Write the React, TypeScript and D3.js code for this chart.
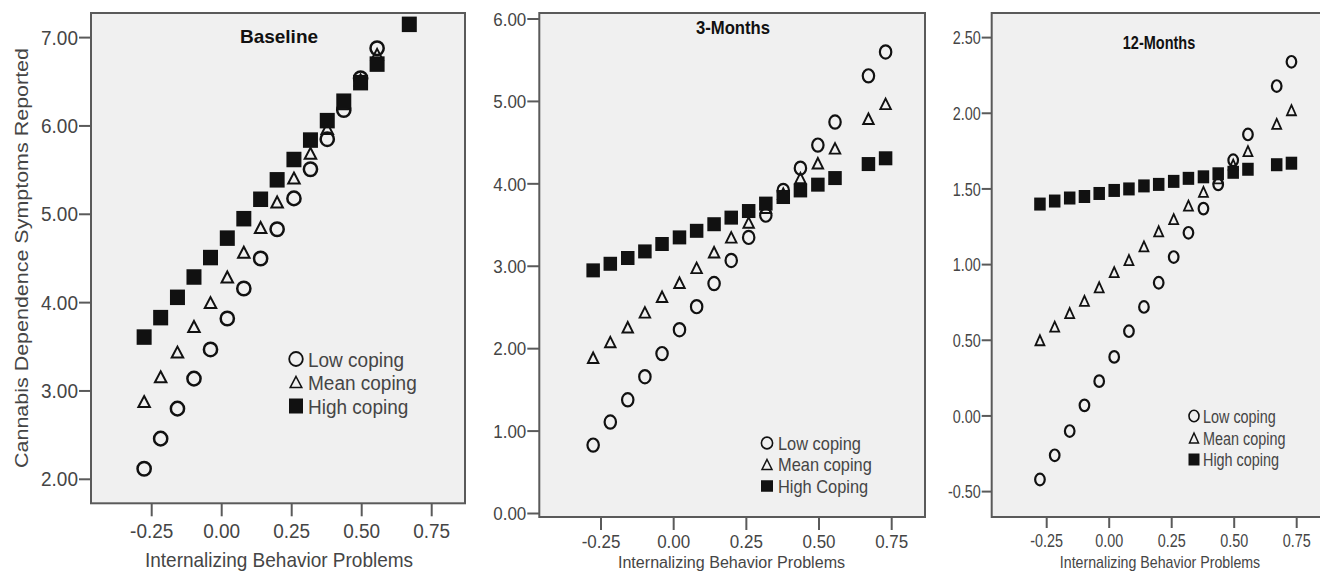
import React from "react";
import * as d3 from "d3";

// ---------- data ----------
const X_POINTS = [-0.277, -0.218, -0.158, -0.099, -0.04, 0.02, 0.079, 0.139, 0.198, 0.258, 0.317, 0.377, 0.436, 0.496, 0.555, 0.67, 0.729];
const X_TICKS = [-0.25, 0, 0.25, 0.5, 0.75];

const BASE_LOW = [2.12, 2.46, 2.8, 3.14, 3.47, 3.82, 4.16, 4.5, 4.83, 5.18, 5.51, 5.85, 6.18, 6.54, 6.88];
const BASE_MEAN = [2.88, 3.16, 3.44, 3.73, 4.0, 4.29, 4.57, 4.85, 5.14, 5.41, 5.69, 5.97, 6.25, 6.52, 6.81];
const BASE_HIGH = [3.61, 3.83, 4.06, 4.29, 4.51, 4.73, 4.95, 5.17, 5.39, 5.62, 5.84, 6.06, 6.28, 6.49, 6.7, 7.15];
const BASE_Y_TICKS = [2, 3, 4, 5, 6, 7];

const M3_LOW = [0.83, 1.11, 1.38, 1.66, 1.94, 2.23, 2.51, 2.79, 3.07, 3.35, 3.62, 3.92, 4.19, 4.47, 4.75, 5.31, 5.6];
const M3_MEAN = [1.89, 2.08, 2.26, 2.44, 2.63, 2.8, 2.98, 3.17, 3.35, 3.53, 3.71, 3.88, 4.07, 4.25, 4.43, 4.79, 4.97];
const M3_HIGH = [2.95, 3.03, 3.1, 3.18, 3.27, 3.35, 3.43, 3.51, 3.59, 3.67, 3.76, 3.84, 3.92, 3.99, 4.07, 4.24, 4.31];
const M3_Y_TICKS = [0, 1, 2, 3, 4, 5, 6];

const M12_LOW = [-0.42, -0.26, -0.1, 0.07, 0.23, 0.39, 0.56, 0.72, 0.88, 1.05, 1.21, 1.37, 1.53, 1.69, 1.86, 2.18, 2.34];
const M12_MEAN = [0.5, 0.59, 0.68, 0.76, 0.85, 0.95, 1.03, 1.12, 1.22, 1.3, 1.39, 1.48, 1.57, 1.66, 1.75, 1.93, 2.02];
const M12_HIGH = [1.4, 1.42, 1.44, 1.45, 1.47, 1.49, 1.5, 1.52, 1.53, 1.55, 1.57, 1.58, 1.6, 1.61, 1.63, 1.66, 1.67];
const M12_Y_TICKS = [-0.5, 0, 0.5, 1, 1.5, 2, 2.5];

const TITLES = ["Baseline", "3-Months", "12-Months"];
const LEGEND_1 = ["Low coping", "Mean coping", "High coping"];
const LEGEND_2 = ["Low coping", "Mean coping", "High Coping"];
const LEGEND_3 = ["Low coping", "Mean coping", "High coping"];
const X_TITLE = "Internalizing Behavior Problems";
const Y_TITLE = "Cannabis Dependence Symptoms Reported";

// ---------- styling / layout ----------
const W = 1320;
const H = 573;
const TEXT = "#454545";
const INK = "#111";
const FRAME = "#5a5a5a";
const BG = "#f0f0f0";
const FONT = "'Liberation Sans', Arial, sans-serif";

const fmt = d3.formatLocale({ decimal: ".", thousands: ",", grouping: [3], currency: ["$", ""], minus: "-" }).format(".2f");

type Shape = "circle" | "tri" | "square";

function Marker({ shape, x, y, s }: { shape: Shape; x: number; y: number; s: any }) {
  if (shape === "circle") {
    return <ellipse cx={x} cy={y} rx={s.crx} ry={s.cry} fill="none" stroke={INK} strokeWidth={s.csw} />;
  }
  if (shape === "tri") {
    const w = s.tw, h = s.th;
    const p = d3.path();
    p.moveTo(x, y - h / 2);
    p.lineTo(x + w / 2, y + h / 2);
    p.lineTo(x - w / 2, y + h / 2);
    p.closePath();
    return <path d={p.toString()} fill="none" stroke={INK} strokeWidth={s.tsw} strokeLinejoin="miter" />;
  }
  return <rect x={x - s.sw / 2} y={y - s.sh / 2} width={s.sw} height={s.sh} fill={INK} />;
}

function Txt({ x, y, fs, sx = 1, sy = 1, anchor = "start", bold = false, children }: any) {
  return (
    <text
      transform={`translate(${x},${y}) scale(${sx},${sy})`}
      fontSize={fs}
      fontFamily={FONT}
      fontWeight={bold ? "bold" : "normal"}
      textAnchor={anchor}
      fill={bold ? "#111" : TEXT}
    >
      {children}
    </text>
  );
}

function Panel({ cfg }: { cfg: any }) {
  const x = d3.scaleLinear().domain([-0.25, 0.75]).range(cfg.xr);
  const y = d3.scaleLinear().domain(cfg.yd).range(cfg.yr);
  const { x0, x1, y0, y1 } = cfg.frame;
  const series: [Shape, number[]][] = [
    ["circle", cfg.low],
    ["tri", cfg.mean],
    ["square", cfg.high],
  ];
  const shapes: Shape[] = ["circle", "tri", "square"];
  return (
    <g>
      <rect x={x0} y={y0} width={x1 - x0} height={y1 - y0} fill={BG} stroke={FRAME} strokeWidth={2} />
      {cfg.yTicks.map((t: number) => (
        <g key={"y" + t}>
          <line x1={x0 - cfg.tickLen} x2={x0} y1={y(t)} y2={y(t)} stroke={FRAME} strokeWidth={2} />
          <Txt x={x0 - cfg.tickLen - 1} y={y(t) + cfg.yLabDy} fs={cfg.fs} sx={cfg.sx} sy={cfg.sy} anchor="end">
            {fmt(t)}
          </Txt>
        </g>
      ))}
      {X_TICKS.map((t) => (
        <g key={"x" + t}>
          <line x1={x(t)} x2={x(t)} y1={y1} y2={y1 + cfg.tickLen + 1} stroke={FRAME} strokeWidth={2} />
          <Txt x={x(t)} y={cfg.xLabY} fs={cfg.fs} sx={cfg.sx} sy={cfg.sy} anchor="middle">
            {fmt(t)}
          </Txt>
        </g>
      ))}
      {series.map(([shape, vals]) =>
        vals.map((v, i) => <Marker key={shape + i} shape={shape} x={x(X_POINTS[i])} y={y(v)} s={cfg.m} />)
      )}
      <Txt x={cfg.title.x} y={cfg.title.y} fs={cfg.title.fs} sx={cfg.title.sx} sy={cfg.title.sy} anchor="middle" bold>
        {cfg.titleText}
      </Txt>
      {cfg.legend.map((label: string, i: number) => {
        const ry = cfg.leg.y[i];
        return (
          <g key={label}>
            <Marker shape={shapes[i]} x={cfg.leg.mx} y={ry} s={cfg.lm} />
            <Txt x={cfg.leg.tx} y={ry + cfg.leg.dy} fs={cfg.leg.fs} sx={cfg.leg.sx} sy={cfg.leg.sy}>
              {label}
            </Txt>
          </g>
        );
      })}
      <Txt x={cfg.xt.x} y={cfg.xt.y} fs={cfg.xt.fs} sx={cfg.xt.sx} sy={cfg.xt.sy} anchor="middle">
        {X_TITLE}
      </Txt>
    </g>
  );
}

const PANELS = [
  {
    titleText: TITLES[0],
    low: BASE_LOW,
    mean: BASE_MEAN,
    high: BASE_HIGH,
    yTicks: BASE_Y_TICKS,
    xr: [151.7, 431.7],
    yd: [2, 7],
    yr: [479.3, 37.6],
    frame: { x0: 91, x1: 465, y0: 13, y1: 503.3 },
    tickLen: 12,
    fs: 19,
    sx: 1,
    sy: 1.1,
    yLabDy: 7,
    xLabY: 537.5,
    m: { crx: 6.6, cry: 6.8, csw: 2.5, tw: 11.5, th: 11, tsw: 2, sw: 15, sh: 15.5 },
    lm: { crx: 6.8, cry: 7, csw: 1.8, tw: 11.5, th: 11, tsw: 1.6, sw: 14, sh: 15 },
    title: { x: 279, y: 43, fs: 19, sx: 1, sy: 1 },
    leg: { mx: 296, tx: 308, y: [359, 382, 406], dy: 7.5, fs: 19, sx: 1, sy: 1.08 },
    legend: LEGEND_1,
    xt: { x: 279, y: 566.5, fs: 19, sx: 1, sy: 1.05 },
  },
  {
    titleText: TITLES[1],
    low: M3_LOW,
    mean: M3_MEAN,
    high: M3_HIGH,
    yTicks: M3_Y_TICKS,
    xr: [601, 891.7],
    yd: [0, 6],
    yr: [513.5, 19],
    frame: { x0: 539.3, x1: 925, y0: 13, y1: 517 },
    tickLen: 12,
    fs: 17,
    sx: 1,
    sy: 1.12,
    yLabDy: 6.8,
    xLabY: 548.3,
    m: { crx: 5.7, cry: 6.6, csw: 2.2, tw: 10.5, th: 10.5, tsw: 1.9, sw: 13.5, sh: 14 },
    lm: { crx: 5.6, cry: 5.9, csw: 1.6, tw: 10, th: 10, tsw: 1.5, sw: 12, sh: 11.5 },
    title: { x: 733, y: 34, fs: 16.7, sx: 1, sy: 1.15 },
    leg: { mx: 767, tx: 778, y: [443, 464.5, 486], dy: 6.8, fs: 16.4, sx: 1, sy: 1.13 },
    legend: LEGEND_2,
    xt: { x: 731.5, y: 568, fs: 16.1, sx: 1, sy: 1.02 },
  },
  {
    titleText: TITLES[2],
    low: M12_LOW,
    mean: M12_MEAN,
    high: M12_HIGH,
    yTicks: M12_Y_TICKS,
    xr: [1046.7, 1296.7],
    yd: [-0.5, 2.5],
    yr: [491.6, 37.6],
    frame: { x0: 991.7, x1: 1330, y0: 13, y1: 517 },
    tickLen: 10,
    fs: 14.4,
    sx: 1,
    sy: 1.3,
    yLabDy: 6.8,
    xLabY: 547.3,
    m: { crx: 4.8, cry: 5.8, csw: 2.2, tw: 9, th: 10, tsw: 1.8, sw: 11.5, sh: 13 },
    lm: { crx: 5, cry: 5.8, csw: 1.6, tw: 9, th: 10, tsw: 1.5, sw: 11, sh: 12 },
    title: { x: 1159, y: 49, fs: 14.5, sx: 1, sy: 1.3 },
    leg: { mx: 1194, tx: 1203, y: [416, 438, 459.5], dy: 6.8, fs: 14.4, sx: 1, sy: 1.3 },
    legend: LEGEND_3,
    xt: { x: 1160, y: 567.5, fs: 14.2, sx: 1, sy: 1.15 },
  },
];

export default function App() {
  return (
    <svg
      width={W}
      height={H}
      viewBox={`0 0 ${W} ${H}`}
      style={{ position: "absolute", left: 0, top: 0, background: "#fff" }}
    >
      <rect x={0} y={0} width={W} height={H} fill="#fff" />
      {PANELS.map((p, i) => (
        <Panel key={i} cfg={p} />
      ))}
      <text
        transform={`translate(28,258) rotate(-90)`}
        fontSize={19}
        fontFamily={FONT}
        textAnchor="middle"
        fill={TEXT}
        textLength={420}
        lengthAdjust="spacingAndGlyphs"
      >
        {Y_TITLE}
      </text>
    </svg>
  );
}
